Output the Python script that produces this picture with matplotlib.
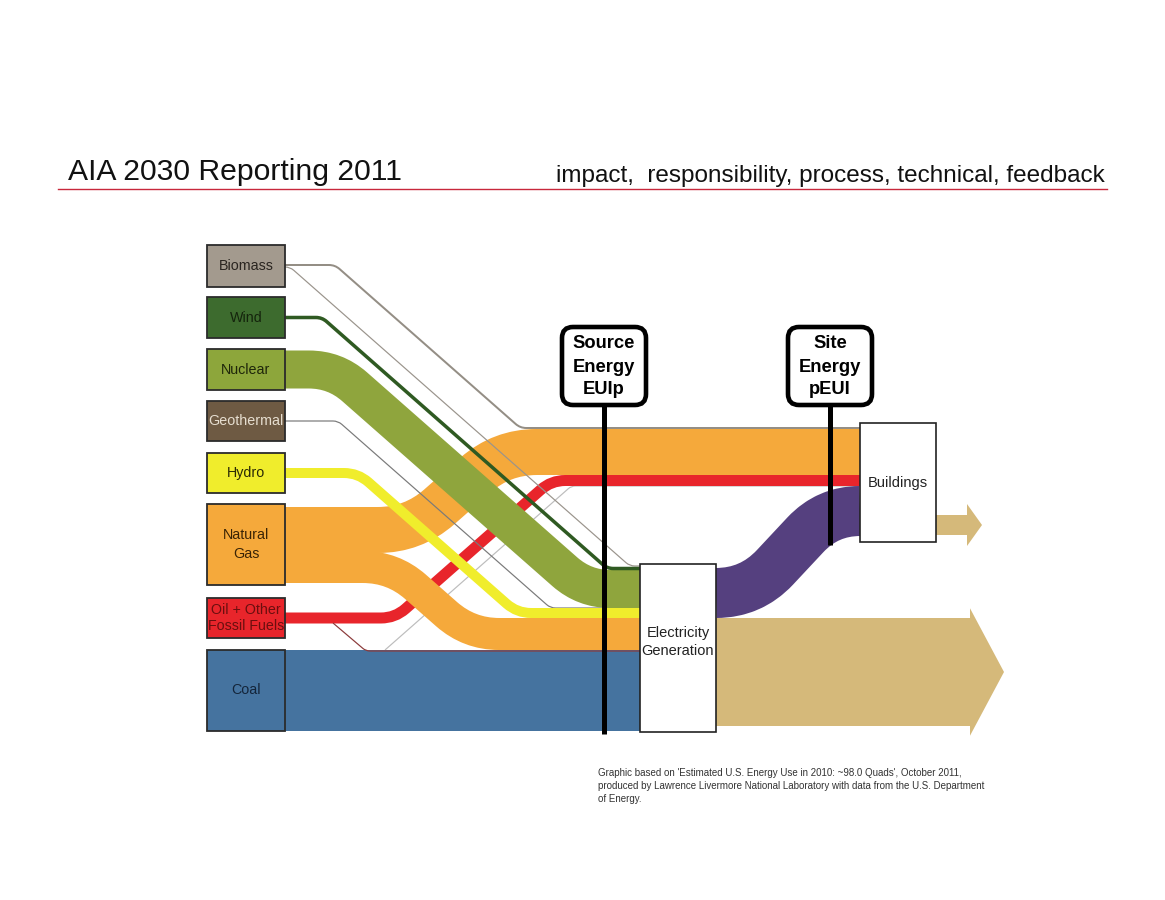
import matplotlib
matplotlib.use('Agg')
import matplotlib.pyplot as plt
from matplotlib.path import Path
from matplotlib.patches import PathPatch, Rectangle, FancyBboxPatch, Polygon
import numpy as np

# ---------------- data ----------------
source_names = ['Biomass', 'Wind', 'Nuclear', 'Geothermal', 'Hydro',
                'Natural\nGas', 'Oil + Other\nFossil Fuels', 'Coal']
source_colors = ['#a39a8e', '#3d6b2e', '#8da63b', '#6e5a43', '#f0ed2c',
                 '#f5a93b', '#e8252b', '#45739f']
source_text_colors = ['#2a2520', '#14240c', '#1e260a', '#e6ded0', '#2a2a05',
                      '#3a2405', '#6b0f0f', '#14253a']

# relative flow widths (drawn in pixel units)
elec_inputs = ['Wind', 'Nuclear', 'Hydro', 'Natural Gas', 'Coal']
elec_input_values = [3, 38, 10, 32, 81]
bldg_inputs = ['Biomass', 'Natural Gas', 'Oil', 'Electricity']
bldg_input_values = [2, 46, 11, 50]
elec_output_values = [50, 108]        # to buildings, to other uses
bldg_output_value = 20
thin_flow_value = 1.2                  # biomass/geothermal/oil -> elec, coal -> bldg

title = 'AIA 2030 Reporting 2011'
subtitle = 'impact,  responsibility, process, technical, feedback'
footnote = ["Graphic based on 'Estimated U.S. Energy Use in 2010: ~98.0 Quads', October 2011,",
            "produced by Lawrence Livermore National Laboratory with data from the U.S. Department",
            "of Energy."]
marker_labels = [['Source', 'Energy', 'EUIp'], ['Site', 'Energy', 'pEUI']]

# ---------------- layout ----------------
W, H = 1165, 900
PX = 72 / 100.0
SLOPE = 0.88
fig = plt.figure(figsize=(W / 100, H / 100), dpi=100)
ax = fig.add_axes([0, 0, 1, 1])
ax.set_xlim(0, W)
ax.set_ylim(H, 0)
ax.axis('off')

box_x0, box_x1 = 207, 285
box_top = [245, 297, 349, 401, 453, 504, 598, 650]
box_h = [42, 41, 41, 40, 40, 81, 40, 81]
elec_box = (640, 564, 716, 732)
bldg_box = (860, 423, 936, 542)
elec_top = 567
bldg_top = 427

def stack(top, vals):
    out, y = [], top
    for v in vals:
        out.append((y, y + v))
        y += v
    return out

e_st = dict(zip(elec_inputs, stack(elec_top, elec_input_values)))
b_st = dict(zip(bldg_inputs, stack(bldg_top, bldg_input_values)))


def rounded(points, r):
    pts = [np.array(p, float) for p in points]
    verts, codes = [pts[0]], [Path.MOVETO]
    n = len(pts)
    for i in range(1, n - 1):
        p0, p1, p2 = pts[i - 1], pts[i], pts[i + 1]
        d1, d2 = p1 - p0, p2 - p1
        l1, l2 = np.hypot(*d1), np.hypot(*d2)
        m1 = l1 if i == 1 else l1 / 2
        m2 = l2 if i == n - 2 else l2 / 2
        rr = min(r, m1, m2)
        a = p1 - d1 / l1 * rr
        b = p1 + d2 / l2 * rr
        verts += [a, p1, b]
        codes += [Path.LINETO, Path.CURVE3, Path.CURVE3]
    verts.append(pts[-1])
    codes.append(Path.LINETO)
    return Path(verts, codes)


def route(x0, y0, xc, y1, xe, slope=SLOPE):
    x2 = xc + abs(y1 - y0) / slope
    return [(x0, y0), (xc, y0), (x2, y1), (xe, y1)]


def flow(points, w, color, r=30, z=2):
    ax.add_patch(PathPatch(rounded(points, r), fill=False, ec=color, lw=w * PX,
                           capstyle='butt', joinstyle='round', zorder=z))


def mid(a):
    return (a[0] + a[1]) / 2.0

cen = [t + h / 2.0 for t, h in zip(box_top, box_h)]
ex0 = elec_box[0]
bx0 = bldg_box[0]

# coal -> buildings thin line
flow(route(385, e_st['Coal'][0], 385, b_st['Oil'][1], bx0), thin_flow_value, '#bdbdbd', r=4, z=1)
# oil -> buildings
flow(route(box_x1, cen[6], 395, mid(b_st['Oil']), bx0), bldg_input_values[2], source_colors[6], r=14, z=2)
# gas -> electricity (lower branch)
g_low = (box_top[5] + 47, box_top[5] + 47 + elec_input_values[3])
flow(route(box_x1, mid(g_low), 393, mid(e_st['Natural Gas']), ex0), elec_input_values[3], source_colors[5], r=30, z=3)
# gas -> buildings (upper branch)
g_up = (box_top[5] + 3, box_top[5] + 3 + bldg_input_values[1])
flow(route(box_x1, mid(g_up), 413, mid(b_st['Natural Gas']), bx0), bldg_input_values[1], source_colors[5], r=35, z=3)
# coal -> electricity
ax.add_patch(Rectangle((box_x1, e_st['Coal'][0]), ex0 - box_x1, elec_input_values[4],
                       fc=source_colors[7], ec='none', zorder=4))
# oil -> electricity thin line
flow(route(333, cen[6] + 5, 333, e_st['Coal'][0] + 1, ex0, slope=0.85), thin_flow_value, '#8b3a3a', r=4, z=5)
# geothermal -> electricity
flow(route(box_x1, cen[3], 338, e_st['Hydro'][0], ex0), thin_flow_value, '#7a7a7a', r=5, z=5)
# nuclear
flow(route(box_x1, cen[2], 335, mid(e_st['Nuclear']), ex0), elec_input_values[1], '#8fa53d', r=26, z=6)
# hydro
flow(route(box_x1, cen[4], 358, mid(e_st['Hydro']), ex0), elec_input_values[2], source_colors[4], r=14, z=6)
# biomass -> electricity
flow(route(box_x1, cen[0] + 1, 290, e_st['Wind'][0] - 1, ex0), thin_flow_value, '#9a948c', r=5, z=6)
# wind
flow(route(box_x1, cen[1], 322, mid(e_st['Wind']), ex0), elec_input_values[0] + 0.5, '#2f5a22', r=6, z=7)
# biomass -> buildings
flow(route(box_x1, cen[0] - 1, 335, mid(b_st['Biomass']), bx0), bldg_input_values[0], '#948e85', r=6, z=7)

# electricity -> buildings (purple)
e_out = stack(elec_top + 1, elec_output_values)
flow(route(elec_box[2], mid(e_out[0]), 751, mid(b_st['Electricity']), bx0, slope=1.07),
     elec_output_values[0], '#55407f', r=40, z=3)

# electricity -> other uses (tan arrow)
tan = '#d5b97a'
ty0 = e_out[1][0]
ty1 = ty0 + elec_output_values[1]
hx, tip = 970, 1004
ov = 0.09 * elec_output_values[1]
ax.add_patch(Polygon([(elec_box[2], ty0), (hx, ty0), (hx, ty0 - ov), (tip, (ty0 + ty1) / 2),
                      (hx, ty1 + ov), (hx, ty1), (elec_box[2], ty1)],
                     closed=True, fc=tan, ec='none', zorder=3))
# buildings -> out arrow
by0 = 515
by1 = by0 + bldg_output_value
bhx, btip = 967, 982
bov = 0.55 * bldg_output_value
ax.add_patch(Polygon([(bldg_box[2], by0), (bhx, by0), (bhx, by0 - bov), (btip, (by0 + by1) / 2),
                      (bhx, by1 + bov), (bhx, by1), (bldg_box[2], by1)],
                     closed=True, fc=tan, ec='none', zorder=3))

# source boxes
for name, col, tcol, t, h in zip(source_names, source_colors, source_text_colors, box_top, box_h):
    ax.add_patch(Rectangle((box_x0, t), box_x1 - box_x0, h, fc=col, ec='#2b2b2b', lw=1.3, zorder=10))
    ls = 1.4 if name.startswith('Natural') else 1.15
    ax.text((box_x0 + box_x1) / 2, t + h / 2, name, ha='center', va='center', fontsize=10.3,
            family='Liberation Sans', color=tcol, zorder=11, linespacing=ls)

# electricity & buildings boxes
for (x0, y0, x1, y1), lab, dy in [(elec_box, 'Electricity\nGeneration', -6), (bldg_box, 'Buildings', 0)]:
    ax.add_patch(Rectangle((x0, y0), x1 - x0, y1 - y0, fc='white', ec='#222222', lw=1.2, zorder=10))
    ax.text((x0 + x1) / 2, (y0 + y1) / 2 + dy, lab, ha='center', va='center',
            fontsize=10.5, family='Liberation Sans', color='#222222', zorder=11, linespacing=1.35)

# marker boxes and lines
for cx, lines, yb in [(604, marker_labels[0], 734), (830, marker_labels[1], 545)]:
    ax.plot([cx, cx], [406, yb], color='black', lw=5 * PX, solid_capstyle='butt', zorder=12)
    ax.add_patch(FancyBboxPatch((cx - 42, 327), 84, 78, boxstyle='round,pad=0,rounding_size=11',
                                fc='white', ec='black', lw=3.3, zorder=13))
    for k, s in enumerate(lines):
        ax.text(cx, 344 + 23 * k, s, ha='center', va='center', fontsize=13.2, fontweight='bold',
                family='Liberation Sans', color='black', zorder=14)

# header
rend = fig.canvas.get_renderer()


def fit_text(x, y, s, target_w, **kw):
    t = ax.text(x, y, s, fontsize=10, **kw)
    w = t.get_window_extent(rend).width
    t.set_fontsize(10 * target_w / w)
    return t

fit_text(68, 180, title, 335, ha='left', va='baseline', family='Liberation Sans', color='#111111')
fit_text(1105, 182, subtitle, 550, ha='right', va='baseline', family='Liberation Sans', color='#111111')
ax.plot([58, 1107], [188.5, 188.5], color='#c8283c', lw=1.0, zorder=5)

# footnote
t2 = ax.text(598, 786, footnote[1], fontsize=10, ha='left', va='center', family='Liberation Sans',
             color='#333333')
fs = 10 * 392 / t2.get_window_extent(rend).width
t2.set_fontsize(fs)
ax.text(598, 773, footnote[0], fontsize=fs, ha='left', va='center', family='Liberation Sans', color='#333333')
ax.text(598, 799, footnote[2], fontsize=fs, ha='left', va='center', family='Liberation Sans', color='#333333')

fig.savefig('out.png', dpi=100, facecolor='white')
